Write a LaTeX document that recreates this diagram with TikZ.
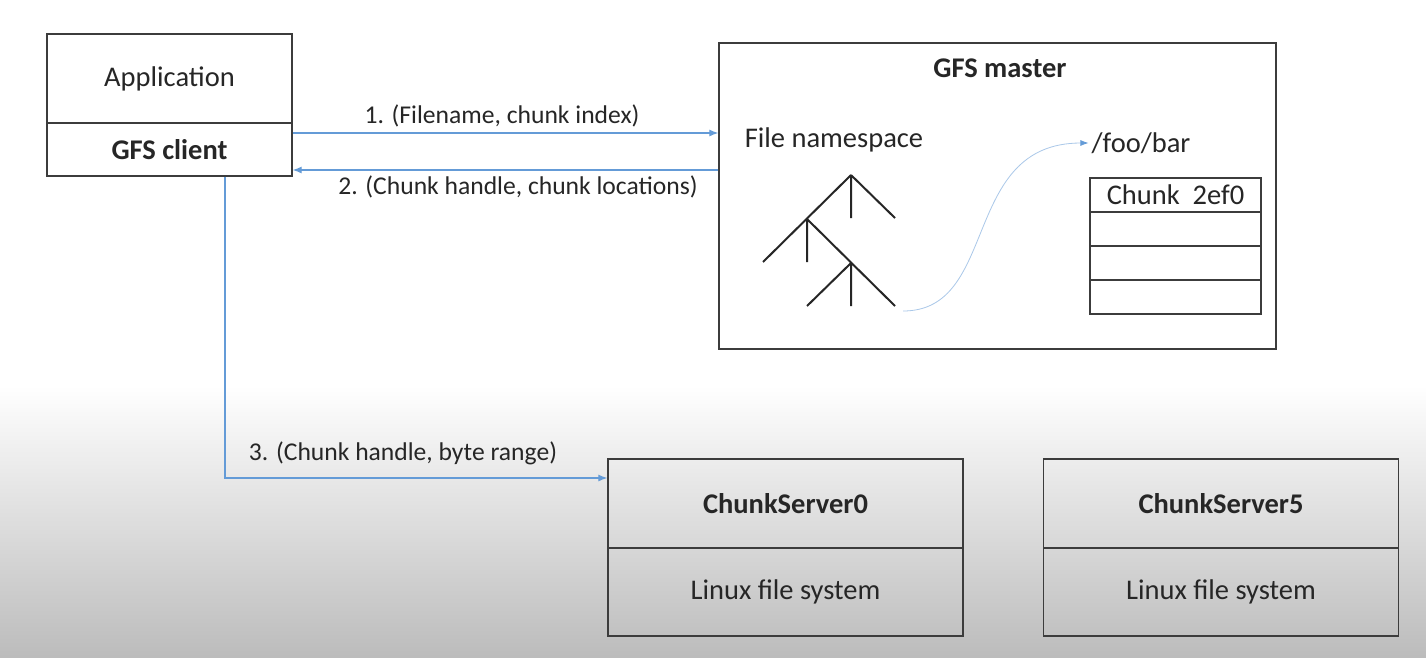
\documentclass[tikz,border=0pt]{standalone}
\usepackage{fontspec}
\setmainfont{Carlito}
\usetikzlibrary{arrows.meta}
\definecolor{flowblue}{RGB}{100,155,215}
\definecolor{inkgray}{RGB}{38,38,38}
\definecolor{shadegray}{RGB}{188,188,188}
\newcommand{\bigtxt}{\fontsize{28.5}{30}\selectfont}
\newcommand{\lbltxt}{\fontsize{25.6}{27}\selectfont}

\begin{document}
\begin{tikzpicture}[x=1pt,y=-1pt,
  box/.style={draw=inkgray!90,line width=1.4pt,inner sep=0pt,text=inkgray,font=\bigtxt},
  flow/.style={draw=flowblue,line width=1.1pt,-{Latex[length=9pt,width=7pt]}},
  lbl/.style={text=inkgray,font=\lbltxt,inner sep=0pt}]
\useasboundingbox (0,0) rectangle (1426,657);
\fill[white] (0,0) rectangle (1426,657);
\shade[top color=white,bottom color=shadegray] (0,385) rectangle (1426,657);

% client side
\node[box,minimum width=245pt,minimum height=89pt] (app) at (169.5,78.5) {Application};
\node[box,minimum width=245pt,minimum height=53pt,font=\bigtxt\bfseries] (client) at (169.5,149.5) {GFS client};

% master
\node[box,minimum width=557pt,minimum height=306pt] (master) at (997.5,196) {};
\node[text=inkgray,font=\bigtxt\bfseries] (mtitle) at (1000,68) {GFS master};
\node[text=inkgray,font=\bigtxt] (ns) at (834,140) {File namespace};
\node[text=inkgray,font=\bigtxt,inner sep=3pt] (foo) at (1141,143) {/foo/bar};
\foreach \i/\t in {0/{Chunk~~2ef0},1/{},2/{},3/{}}
  \node[box,minimum width=171pt,minimum height=34pt] (row\i) at (1175.5,{195+34*\i}) {\t};

% namespace tree
\draw[line width=2pt,black!85] (851,175) -- (895,218) (851,175) -- (851,218) (851,175) -- (763,262)
  (807,219) -- (807,262) (807,219) -- (895,306) (851,263) -- (807,306) (851,263) -- (851,306);
\coordinate (leaf) at (903,311);
\draw[draw=flowblue!55,line width=0.8pt,-{Latex[length=8pt,width=6pt,color=flowblue]}]
  (leaf) .. controls (1000,311) and (960,143) .. (foo.west);

% chunkservers
\foreach \n/\cx in {0/785.5,5/1221} {
  \node[box,minimum width=355pt,minimum height=89pt,font=\bigtxt\bfseries] (cs\n) at (\cx,503.5) {ChunkServer\n};
  \node[box,minimum width=355pt,minimum height=88pt] (fs\n) at (\cx,592) {Linux file system};
}

% requests
\coordinate (out1) at ([yshift=16.5pt]client.east);
\coordinate (in2) at ([yshift=-20.5pt]client.east);
\draw[flow] (out1) -- (out1 -| master.west);
\draw[flow] (in2 -| master.west) -- (in2);
\draw[flow] ([xshift=55.5pt]client.south) |- ([yshift=25.5pt]cs0.west);
\node[lbl] (l1) at (502,116) {1. (Filename, chunk index)};
\node[lbl] (l2) at (518,187) {2. (Chunk handle, chunk locations)};
\node[lbl] (l3) at (403,453) {3. (Chunk handle, byte range)};
\end{tikzpicture}
\end{document}
